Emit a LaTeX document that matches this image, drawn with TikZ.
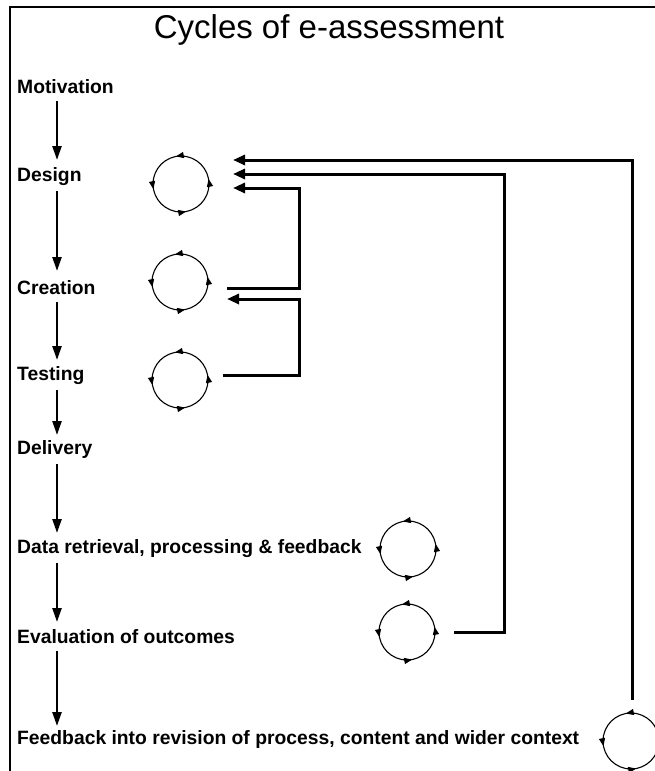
\documentclass[tikz,border=0pt]{standalone}
\usepackage{fontspec}
\setmainfont{Liberation Sans}
\usetikzlibrary{arrows.meta,decorations.markings}
\begin{document}
\begin{tikzpicture}[x=1pt,y=-1pt,
  lab/.style={anchor=west, inner sep=0pt, font=\fontsize{19.3}{22}\selectfont\bfseries},
  ctip/.style={},
  cyc/.style={circle, draw, line width=1.1pt, minimum size=56pt, inner sep=0pt,
    postaction={decorate},
    decoration={markings,
      mark=at position 0.03 with {\arrow{Triangle[length=8pt,width=6pt]}},
      mark=at position 0.28 with {\arrow{Triangle[length=8pt,width=6pt]}},
      mark=at position 0.53 with {\arrow{Triangle[length=8pt,width=6pt]}},
      mark=at position 0.78 with {\arrow{Triangle[length=8pt,width=6pt]}}}},
  varr/.style={line width=2.4pt, -{Triangle[length=14pt,width=9pt]}},
  farr/.style={line width=3pt, -{Triangle[length=12pt,width=10pt]}}
]
\useasboundingbox (0,0) rectangle (655,771);
\draw[line width=2.8pt] (10,780) -- (10,7) -- (665,7);

\node (title) at (329,30) {\fontsize{33}{38}\selectfont Cycles of e-assessment};

\node[lab] (mot) at (17,87) {Motivation};
\node[lab] (des) at (17,177) {Design};
\node[lab] (cre) at (17,288) {Creation};
\node[lab] (tes) at (17,376) {Testing};
\node[lab] (del) at (17,450) {Delivery};
\node[lab] (dat) at (17,549) {Data retrieval, processing \& feedback};
\node[lab] (eva) at (17,637) {Evaluation of outcomes};
\node[lab] (fee) at (17,740) {Feedback into revision of process, content and wider context};

\draw[varr] ([shift={(40,14)}]mot.west) -- ([shift={(40,-17)}]des.west);
\draw[varr] ([shift={(40,14)}]des.west) -- ([shift={(40,-17)}]cre.west);
\draw[varr] ([shift={(40,14)}]cre.west) -- ([shift={(40,-16)}]tes.west);
\draw[varr] ([shift={(40,14)}]tes.west) -- ([shift={(40,-15)}]del.west);
\draw[varr] ([shift={(40,14)}]del.west) -- ([shift={(40,-16)}]dat.west);
\draw[varr] ([shift={(40,14)}]dat.west) -- ([shift={(40,-15)}]eva.west);
\draw[varr] ([shift={(40,14)}]eva.west) -- ([shift={(40,-14)}]fee.west);

\node[cyc] (cdes) at (181,184) {};
\node[cyc] (ccre) at (180,282) {};
\node[cyc] (ctes) at (180,380) {};
\node[cyc] (cdat) at (408,549) {};
\node[cyc] (ceva) at (407,632) {};
\node[cyc] (cfee) at (631,741) {};

\coordinate (inA) at (233,160);
\coordinate (inB) at (233,174);
\coordinate (inC) at (233,188);
\coordinate (inD) at (227,299);
\coordinate (outC) at (227,288);
\coordinate (outT) at (223,375);
\coordinate (outE) at (454,632);
\coordinate (outF) at (632,700);

\draw[farr] (outF) -- (632,160) -- (inA);
\draw[farr] (outE) -- (504,632) -- (504,174) -- (inB);
\draw[farr] (outC) -- (299,288) -- (299,188) -- (inC);
\draw[farr] (outT) -- (299,375) -- (299,299) -- (inD);
\end{tikzpicture}
\end{document}
